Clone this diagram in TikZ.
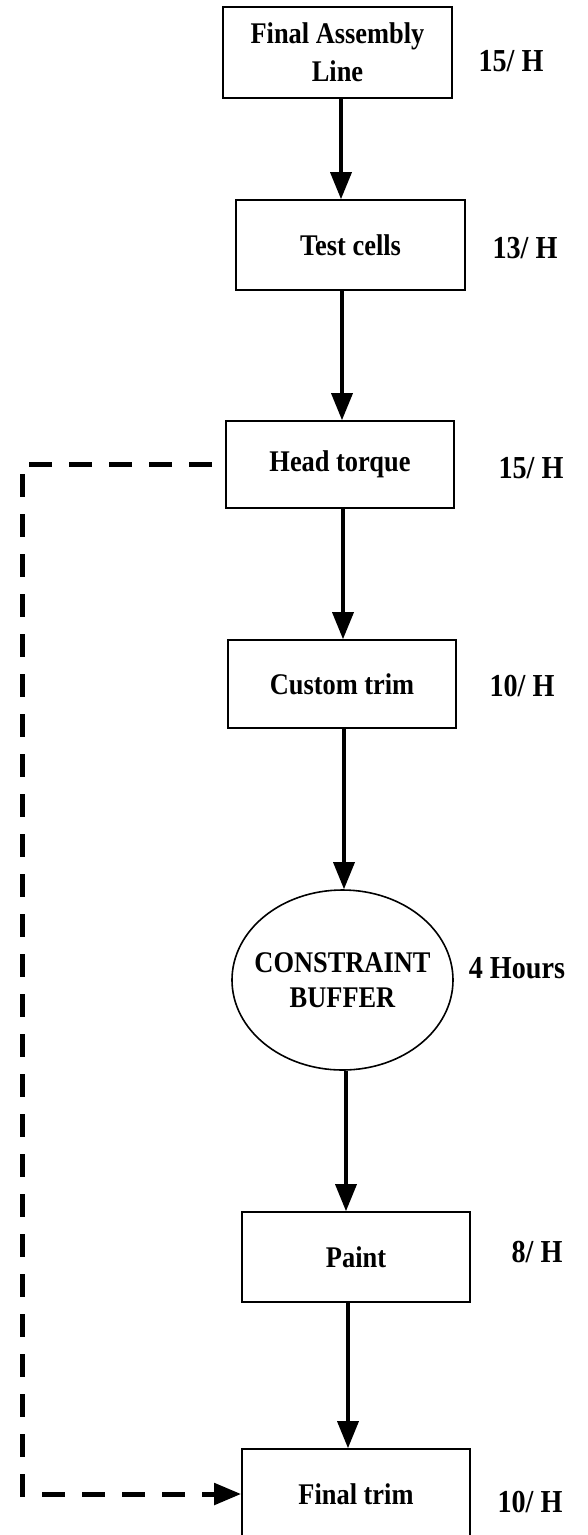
\documentclass[tikz,border=0pt]{standalone}
\usepackage{fontspec}
\setmainfont{Liberation Serif}[FakeStretch=0.88]
\usetikzlibrary{arrows.meta,calc,shapes.geometric}
\begin{document}
\begin{tikzpicture}[x=1pt,y=-1pt,
  stage/.style={draw,line width=1.6pt,inner sep=0pt,align=center,
    font=\bfseries\fontsize{30}{38}\selectfont},
  buffer/.style={ellipse,draw,line width=1.6pt,inner xsep=-12pt,inner ysep=0pt,align=center,
    font=\bfseries\fontsize{30}{35}\selectfont},
  rate/.style={inner sep=0pt,font=\bfseries\fontsize{32}{34}\selectfont},
  flow/.style={line width=3.5pt,-{Triangle[length=27pt,width=21pt]}},
  link/.style={line width=5pt,dash pattern=on 23pt off 17pt,dash phase=27pt,
    -{Triangle[length=27pt,width=21pt]}}]
\useasboundingbox (0,0) rectangle (587,1535);

% process stages
\node[stage,minimum width=229pt,minimum height=91pt] (b1) at (337.5,52.5) {Final Assembly\\Line};
\node[stage,minimum width=229pt,minimum height=90pt] (b2) at (350.5,245) {Test cells};
\node[stage,minimum width=228pt,minimum height=87pt] (b3) at (340,464.5) {Head torque};
\node[stage,minimum width=228pt,minimum height=88pt] (b4) at (342,684) {Custom trim};
\node[buffer,minimum width=221pt,minimum height=180pt] (cb) at (342.5,980) {CONSTRAINT\\BUFFER};
\node[stage,minimum width=228pt,minimum height=90pt] (b5) at (356,1257) {Paint};
\node[stage,minimum width=228pt,minimum height=90pt] (b6) at (356,1494) {Final trim};

% rates
\node[rate] (r1) at (511,61) {15/ H};
\node[rate] (r2) at (525,248) {13/ H};
\node[rate] (r3) at (531,468) {15/ H};
\node[rate] (r4) at (522,686) {10/ H};
\node[rate] (r5) at (517,968) {4 Hours};
\node[rate] (r6) at (537,1252) {8/ H};
\node[rate] (r7) at (530,1502) {10/ H};

% main flow
\draw[flow] ($(b1.south)+(3.5,0)$) -- ($(b1.south |- b2.north)+(3.5,0)$);
\draw[flow] ($(b2.south)+(-8.5,0)$) -- ($(b2.south |- b3.north)+(-8.5,0)$);
\draw[flow] ($(b3.south)+(3,0)$) -- ($(b3.south |- b4.north)+(3,0)$);
\draw[flow] ($(b4.south)+(2,0)$) -- ($(b4.south |- cb.north)+(2,0)$);
\draw[flow] ($(cb.south)+(3.5,0)$) -- ($(cb.south |- b5.north)+(3.5,0)$);
\draw[flow] ($(b5.south)+(-8,0)$) -- ($(b5.south |- b6.north)+(-8,0)$);

% bypass from head torque to final trim
\coordinate (bend) at (22,464.5);
\draw[link] (b3.west) -- (bend) |- (b6.west);
\end{tikzpicture}
\end{document}
